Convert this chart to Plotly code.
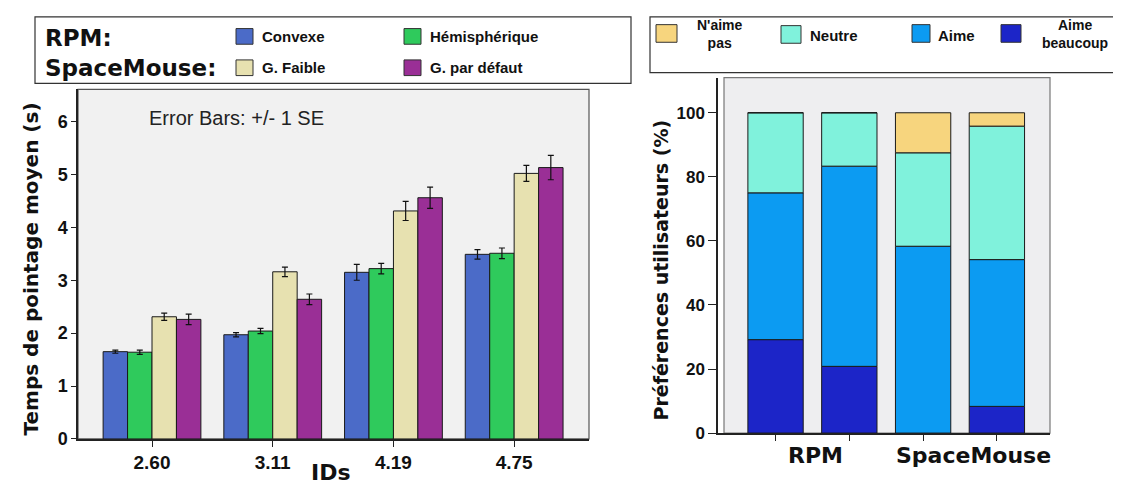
import plotly.graph_objects as go

W, H = 1121, 486

# ---------------- data ----------------
ids = ["2.60", "3.11", "4.19", "4.75"]
series_names = ["Convexe", "Hémisphérique", "G. Faible", "G. par défaut"]
convexe = [1.65, 1.97, 3.15, 3.49]
hemispherique = [1.64, 2.04, 3.22, 3.51]
g_faible = [2.31, 3.16, 4.31, 5.02]
g_defaut = [2.26, 2.64, 4.56, 5.13]
err_convexe = [0.03, 0.04, 0.15, 0.09]
err_hemispherique = [0.04, 0.05, 0.10, 0.10]
err_faible = [0.07, 0.09, 0.18, 0.15]
err_defaut = [0.10, 0.10, 0.20, 0.23]

devices = ["Convexe", "Hémisphérique", "G. Faible", "G. par défaut"]
pref_names = ["Aime beaucoup", "Aime", "Neutre", "N'aime pas"]
aime_beaucoup = [29.17, 20.83, 0.0, 8.33]
aime = [45.83, 62.50, 58.33, 45.83]
neutre = [25.00, 16.67, 29.17, 41.67]
naime_pas = [0.0, 0.0, 12.50, 4.17]

# ---------------- styles ----------------
left_colors = ["#4b6bc8", "#2fca5c", "#e7e1b0", "#9a2f96"]
pref_colors = ["#1c25c8", "#0c9bf2", "#80f2dc", "#f7d57e"]
FONT = "Liberation Sans"
WIDE = "DejaVu Sans"


def px(x):
    return x / W


def py(y):
    return 1 - y / H


fig = go.Figure()

left_vals = [convexe, hemispherique, g_faible, g_defaut]
left_errs = [err_convexe, err_hemispherique, err_faible, err_defaut]
for name, vals, errs, col in zip(series_names, left_vals, left_errs, left_colors):
    fig.add_trace(go.Bar(
        x=ids, y=vals, name=name, marker=dict(color=col, line=dict(color="#1a1a1a", width=1)),
        error_y=dict(type="data", array=errs, color="#111111", thickness=1.2, width=3),
        xaxis="x", yaxis="y", showlegend=False,
    ))

pref_vals = [aime_beaucoup, aime, neutre, naime_pas]
base = [0.0] * len(devices)
for name, vals, col in zip(pref_names, pref_vals, pref_colors):
    fig.add_trace(go.Bar(
        x=devices, y=vals, base=list(base), name=name,
        marker=dict(color=col, line=dict(color="#1a1a1a", width=1)),
        width=0.75, offset=-0.375, xaxis="x2", yaxis="y2", showlegend=False,
    ))
    base = [b + v for b, v in zip(base, vals)]

axis_common = dict(showline=True, linecolor="#222222", linewidth=1.5, mirror=False,
                   showgrid=False, zeroline=False, ticks="outside", tickcolor="#222222")

fig.update_layout(
    width=W, height=H, margin=dict(l=0, r=0, t=0, b=0),
    paper_bgcolor="white", plot_bgcolor="white",
    barmode="group", bargap=0.19, bargroupgap=0,
    xaxis=dict(domain=[px(70), px(581)], range=[-0.613, 3.62], type="category",
               ticklen=6, anchor="y",
               tickfont=dict(family=FONT, size=19, color="#111111", weight="bold"), **axis_common),
    yaxis=dict(domain=[py(440), py(83)], range=[0, 6.61], tickvals=[0, 1, 2, 3, 4, 5, 6],
               ticklen=5, anchor="x",
               tickfont=dict(family=FONT, size=18, color="#111111", weight="bold"), **axis_common),
    xaxis2=dict(domain=[px(710), px(1042)], range=[-0.78, 3.72], type="category",
                ticklen=6, showticklabels=False, anchor="y2", **axis_common),
    yaxis2=dict(domain=[py(434), py(71)], range=[0, 111], tickvals=[0, 20, 40, 60, 80, 100],
                ticklen=8, anchor="x2",
                tickfont=dict(family=FONT, size=17, color="#111111", weight="bold"), **axis_common),
)

shapes = []
# plot backgrounds and frames
shapes.append(dict(type="rect", xref="paper", yref="paper", x0=px(70), x1=px(581), y0=py(440), y1=py(83),
                   fillcolor="#f1f1f1", line=dict(color="#555555", width=1.2), layer="below"))
shapes.append(dict(type="rect", xref="paper", yref="paper", x0=px(716), x1=px(1042), y0=py(434), y1=py(71),
                   fillcolor="#eeeef0", line=dict(color="#777777", width=1.2), layer="below"))
# legend boxes
shapes.append(dict(type="rect", xref="paper", yref="paper", x0=px(27), x1=px(623), y0=py(77), y1=py(9),
                   fillcolor="white", line=dict(color="#333333", width=1.2)))
shapes.append(dict(type="rect", xref="paper", yref="paper", x0=px(642), x1=px(1118), y0=py(66), y1=py(9),
                   fillcolor="white", line=dict(color="#333333", width=1.2)))

annotations = []


def swatch(x0, x1, yc, h, color):
    shapes.append(dict(type="rect", xref="paper", yref="paper", x0=px(x0), x1=px(x1),
                       y0=py(yc + h / 2), y1=py(yc - h / 2), fillcolor=color,
                       line=dict(color="#333333", width=1)))


def label(x, y, text, size=15, anchor="left", family=FONT, angle=0, xref="paper"):
    annotations.append(dict(xref=xref, yref="paper", x=px(x) if xref == "paper" else x, y=py(y),
                            text=text, showarrow=False, textangle=angle, align="center",
                            xanchor=anchor, yanchor="middle",
                            font=dict(family=family, size=size, color="#111111", weight="bold")))


# left legend
label(35, 31, "RPM:", size=23, family=WIDE)
label(35, 61, "SpaceMouse:", size=23, family=WIDE)
left_leg_pos = [(228, 29), (396, 29), (228, 61), (396, 61)]
for (lx, ly), name, col in zip(left_leg_pos, series_names, left_colors):
    swatch(lx, lx + 17, ly, 16, col)
    label(lx + 24, ly, name, size=15)

# right legend
swatch(648, 669, 26, 18, pref_colors[3])
label(712, 27, "N'aime<br>pas", size=14, anchor="center")
swatch(773, 793, 27, 18, pref_colors[2])
label(800, 28, "Neutre", size=15)
swatch(904, 922, 26, 18, pref_colors[1])
label(928, 28, "Aime", size=15)
swatch(993, 1013, 26, 18, pref_colors[0])
label(1067, 27, "Aime<br>beaucoup", size=14, anchor="center")

# note in left plot
annotations.append(dict(xref="paper", yref="paper", x=px(139), y=py(112), text="Error Bars: +/- 1 SE",
                        showarrow=False, xanchor="left", yanchor="middle",
                        font=dict(family=FONT, size=20, color="#222222")))
# axis titles
label(23, 267, "Temps de pointage moyen (s)", size=20, anchor="center", family=WIDE, angle=-90)
label(653, 268, "Préférences utilisateurs (%)", size=19, anchor="center", family=WIDE, angle=-90)
label(323, 474, "IDs", size=22, anchor="center", family=WIDE)
# group labels for right chart
label(0.54, 457, "RPM", size=22, anchor="center", family=WIDE, xref="x2")
label(2.68, 457, "SpaceMouse", size=22, anchor="center", family=WIDE, xref="x2")

fig.update_layout(shapes=shapes, annotations=annotations)
fig.write_html("out.html")
